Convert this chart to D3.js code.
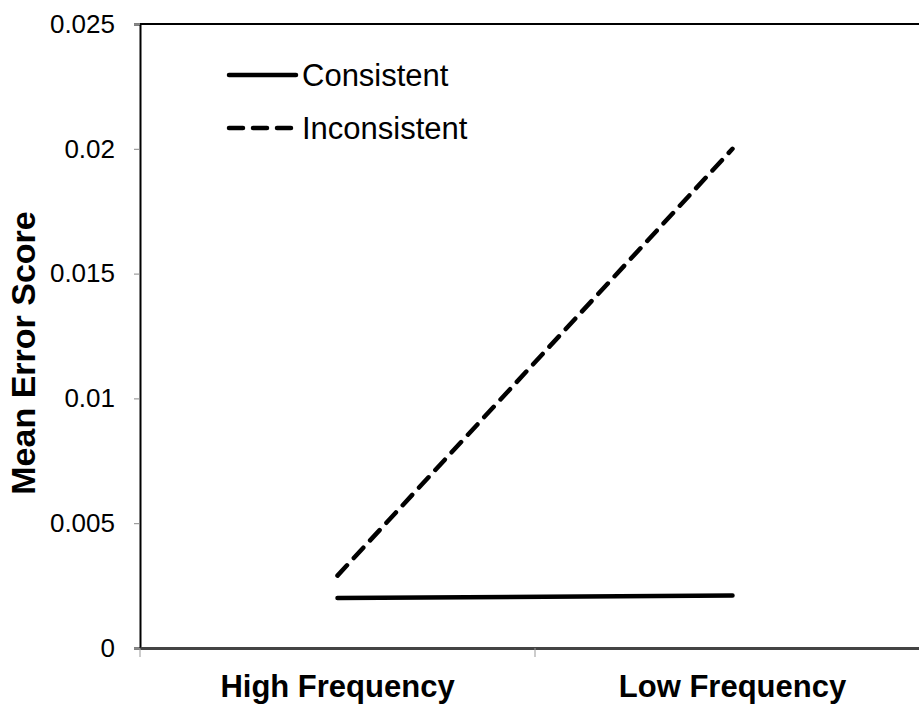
<!DOCTYPE html>
<html>
<head>
<meta charset="utf-8">
<script src="https://cdn.jsdelivr.net/npm/d3@7"></script>
<style>
	body { margin: 0; background: #fff; }
	svg { display: block; font-family: "Liberation Sans", Arial, sans-serif; }
</style>
</head>
<body>
<script>
const categories = ["High Frequency", "Low Frequency"];
const consistent = [0.0020, 0.0021];
const inconsistent = [0.0029, 0.0200];
const yTicks = [0, 0.005, 0.01, 0.015, 0.02, 0.025];
const yTickLabels = ["0", "0.005", "0.01", "0.015", "0.02", "0.025"];

const width = 919, height = 704;
const margin = { top: 24, left: 140, bottom: 56, right: -11 };
const font = "Liberation Sans, Arial, sans-serif";
const dash = "14 10";

let x = d3.scaleBand()
	.domain(categories)
	.range([margin.left, width - margin.right]);
let y = d3.scaleLinear()
	.domain([0, 0.025])
	.range([height - margin.bottom, margin.top]);

let svg = d3.select("body").append("svg")
	.attr("width", width)
	.attr("height", height);

// frame top
svg.append("line")
	.attr("x1", margin.left).attr("x2", width)
	.attr("y1", y(0.025)).attr("y2", y(0.025))
	.attr("stroke", "#000").attr("stroke-width", 2);

// y axis
let axisY = svg.append("g")
	.attr("transform", `translate(${margin.left}, 0)`)
	.call(d3.axisLeft(y).tickValues(yTicks).tickFormat((d, i) => yTickLabels[i]).tickSize(6).tickPadding(19));
axisY.select(".domain").attr("stroke", "#000").attr("stroke-width", 2);
axisY.selectAll(".tick line").attr("stroke", "#888");
axisY.selectAll(".tick text").attr("font-size", 26).attr("fill", "#000").attr("font-family", font);

// x axis
let axisX = svg.append("g")
	.attr("transform", `translate(0, ${y(0)})`)
	.call(d3.axisBottom(x).tickSize(0).tickPadding(27));
axisX.select(".domain").attr("stroke", "#444").attr("stroke-width", 3);
axisX.selectAll(".tick text")
	.attr("font-size", 31).attr("font-weight", "bold").attr("fill", "#000")
	.attr("font-family", font);
// boundary ticks between categories
svg.append("g")
	.selectAll("line")
	.data(categories)
	.enter()
	.append("line")
		.attr("x1", d => x(d)).attr("x2", d => x(d))
		.attr("y1", y(0)).attr("y2", y(0) + 9)
		.attr("stroke", "#999").attr("stroke-width", 1);

// y title
svg.append("text")
	.attr("transform", `translate(35, ${(y(0) + y(0.025)) / 2 + 17}) rotate(-90)`)
	.attr("text-anchor", "middle")
	.attr("font-size", 34).attr("font-weight", "bold")
	.text("Mean Error Score");

let line = d3.line()
	.x((d, i) => x(categories[i]) + x.bandwidth() / 2)
	.y(d => y(d));

svg.append("path")
	.datum(consistent)
	.attr("d", line)
	.attr("fill", "none").attr("stroke", "#000")
	.attr("stroke-width", 4.5).attr("stroke-linecap", "round");

svg.append("path")
	.datum(inconsistent)
	.attr("d", line)
	.attr("fill", "none").attr("stroke", "#000")
	.attr("stroke-width", 4.5).attr("stroke-linecap", "round")
	.attr("stroke-dasharray", dash);

// legend
let legendItems = svg.append("g")
	.attr("class", "legend")
	.selectAll("g")
		.data([{ name: "Consistent", dash: null }, { name: "Inconsistent", dash: dash }])
		.enter()
		.append("g")
			.attr("transform", (d, i) => `translate(229, ${75 + i * 53})`);
legendItems.append("line")
	.attr("x1", 0).attr("x2", 67)
	.attr("stroke", "#000").attr("stroke-width", 4.5).attr("stroke-linecap", "round")
	.attr("stroke-dasharray", d => d.dash);
legendItems.append("text")
	.attr("x", 73).attr("y", 11)
	.attr("font-size", 31)
	.text(d => d.name);
</script>
</body>
</html>
